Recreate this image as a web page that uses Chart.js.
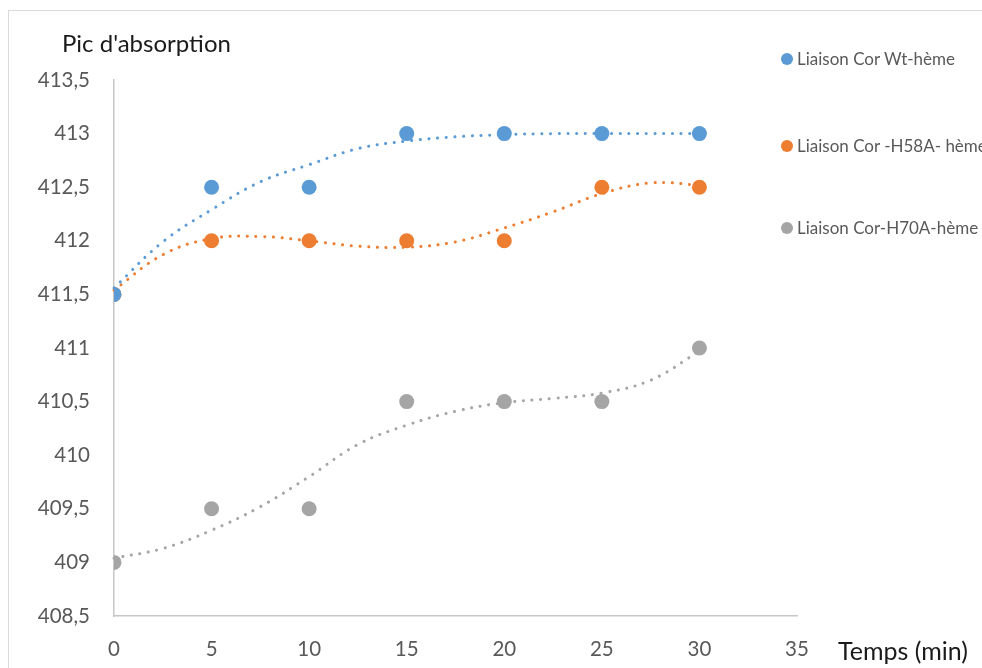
<!DOCTYPE html>
<html>
<head>
<meta charset="utf-8">
<script src="https://cdn.jsdelivr.net/npm/chart.js@4/dist/chart.umd.min.js"></script>
<style>
  html, body { margin: 0; padding: 0; background: #fff; width: 982px; height: 668px; overflow: hidden; }
  #wrap { position: relative; width: 982px; height: 668px; }
  #frame { position: absolute; left: 8px; top: 10px; right: 0; bottom: 0; border-left: 1px solid #d9d9d9; border-top: 1px solid #d9d9d9; }
  canvas { position: absolute; left: 0; top: 0; }
  .txt { position: absolute; font-family: Lato, "Open Sans", sans-serif; white-space: nowrap; line-height: 30px; }
  .leg { position: absolute; font-family: Lato, "Open Sans", sans-serif; font-size: 17px; line-height: 20px; color: #595959; white-space: nowrap; }
  .dot { position: absolute; width: 12px; height: 12px; border-radius: 50%; }
</style>
</head>
<body>
<div id="wrap">
  <div id="frame"></div>
  <canvas id="c" width="982" height="668"></canvas>
  <div class="txt" style="left:62px; top:28px; font-size:24px; color:#1a1a1a;">Pic d'absorption</div>
  <div class="txt" style="left:838px; top:635px; font-size:25px; color:#1a1a1a;">Temps (min)</div>
  <div class="dot" style="left:781px; top:53px; background:#5B9BD5;"></div>
  <div class="leg" style="left:797px; top:49px;">Liaison Cor Wt-hème</div>
  <div class="dot" style="left:781px; top:140px; background:#ED7D31;"></div>
  <div class="leg" style="left:797px; top:136px;">Liaison Cor -H58A- hème</div>
  <div class="dot" style="left:781px; top:222px; background:#A5A5A5;"></div>
  <div class="leg" style="left:797px; top:218px;">Liaison Cor-H70A-hème</div>
</div>
<script>
const times = [0, 5, 10, 15, 20, 25, 30];
const wt   = [411.5, 412.5, 412.5, 413, 413, 413, 413];
const h58a = [411.5, 412, 412, 412, 412, 412.5, 412.5];
const h70a = [409, 409.5, 409.5, 410.5, 410.5, 410.5, 411];

// Dotted trendlines, values
const trendTimes = [0, 2.5, 5, 7.5, 10, 12.5, 15, 17.5, 20, 22.5, 25, 27.5, 30];
const wtTrend   = [411.56, 411.99, 412.29, 412.55, 412.71, 412.86, 412.93, 412.97, 412.99, 413.0, 413.0, 413.0, 413.0];
const h58aTrend = [411.54, 411.87, 412.02, 412.04, 412.0, 411.95, 411.94, 411.99, 412.12, 412.27, 412.44, 412.54, 412.52];
const h70aTrend = [409.04, 409.13, 409.30, 409.52, 409.80, 410.10, 410.28, 410.41, 410.49, 410.53, 410.58, 410.70, 410.97];

const xTicks = [0, 5, 10, 15, 20, 25, 30, 35];
const yTickLabels = ['408,5', '409', '409,5', '410', '410,5', '411', '411,5', '412', '412,5', '413', '413,5'];

const colors = { wt: '#5B9BD5', h58a: '#ED7D31', h70a: '#A5A5A5' };

const pts = (xs, ys) => xs.map((x, i) => ({ x: x, y: ys[i] }));

function trend(data, color) {
  return {
    type: 'line', data: data, borderColor: color, borderWidth: 3,
    borderDash: [0.1, 8.6], borderCapStyle: 'round', pointRadius: 0,
    tension: 0.4, fill: false, clip: false, order: 2
  };
}
function scatter(data, color) {
  return {
    type: 'scatter', data: data, backgroundColor: color, borderColor: color,
    pointRadius: 7.5, pointHoverRadius: 7.5, borderWidth: 0, order: 1
  };
}

new Chart(document.getElementById('c'), {
  data: {
    datasets: [
      scatter(pts(times, wt), colors.wt),
      scatter(pts(times, h58a), colors.h58a),
      scatter(pts(times, h70a), colors.h70a),
      trend(pts(trendTimes, wtTrend), colors.wt),
      trend(pts(trendTimes, h58aTrend), colors.h58a),
      trend(pts(trendTimes, h70aTrend), colors.h70a)
    ]
  },
  options: {
    responsive: false,
    animation: false,
    layout: { padding: { left: 0, top: 80, right: 185, bottom: 0 } },
    plugins: { legend: { display: false }, tooltip: { enabled: false } },
    scales: {
      x: {
        type: 'linear', min: 0, max: 35,
        afterBuildTicks: s => { s.ticks = xTicks.map(v => ({ value: v })); },
        afterFit: s => { s.height = 52; },
        grid: { display: false, drawTicks: false },
        border: { display: true, color: '#c6c6c6', width: 1.5 },
        ticks: { padding: 21, color: '#595959', font: { family: 'Lato', size: 20.5 } }
      },
      y: {
        type: 'linear', min: 408.5, max: 413.5,
        afterBuildTicks: s => { s.ticks = yTickLabels.map((l, i) => ({ value: 408.5 + i * 0.5 })); },
        afterFit: s => { s.width = 114; },
        grid: { display: false, drawTicks: false },
        border: { display: true, color: '#c6c6c6', width: 1.5 },
        ticks: {
          padding: 24, color: '#595959', font: { family: 'Lato', size: 20.5 },
          callback: (v, i) => yTickLabels[i]
        }
      }
    }
  }
});
</script>
</body>
</html>
